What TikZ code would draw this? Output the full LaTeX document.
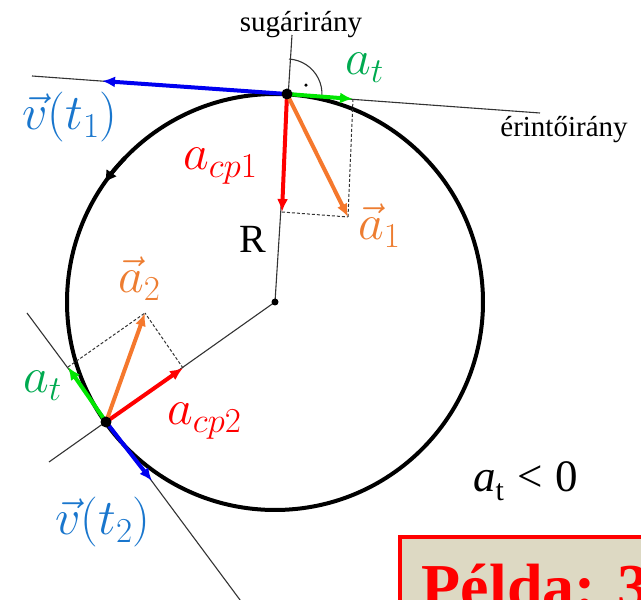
\RequirePackage{fix-cm}
\documentclass[tikz,border=0pt]{standalone}
\usepackage{fontspec}
\setmainfont{Liberation Serif}
\usetikzlibrary{arrows.meta,calc}
\definecolor{vecgreen}{RGB}{0,230,0}
\definecolor{vecblue}{RGB}{0,0,240}
\definecolor{vecred}{RGB}{255,0,0}
\definecolor{vecorange}{RGB}{245,120,45}
\definecolor{labgreen}{RGB}{0,170,80}
\definecolor{labblue}{RGB}{25,118,205}
\definecolor{laborange}{RGB}{237,125,49}
\definecolor{boxbg}{RGB}{221,217,195}

\begin{document}
\begin{tikzpicture}[x=1pt,y=1pt,
  vecarrow/.style={line width=4pt,-{Latex[length=13pt,width=11pt]}},
  thinline/.style={line width=1.1pt,black!80},
  helpline/.style={line width=1pt,densely dashed,black!80},
  mathlabel/.style={inner sep=0pt,anchor=base west,font=\fontsize{50}{54}\selectfont},
  textlabel/.style={inner sep=0pt,anchor=base,font=\fontsize{29}{32}\selectfont}]
\useasboundingbox (0,0) rectangle (641,600);
\clip (0,0) rectangle (641,600);

\coordinate (C) at (275,298);
\coordinate (P1) at (287,506);
\coordinate (P2) at (106,178);
\coordinate (S1) at (292,565);
\coordinate (S2) at (49,138);
\coordinate (T1a) at (32,524);
\coordinate (T1b) at (540,487);
\coordinate (T2a) at (27,287);
\coordinate (T2b) at (246,-8);
\coordinate (v1) at (102,519);
\coordinate (at1) at (353,501);
\coordinate (acp1) at (282,388);
\coordinate (a1) at ($(at1)+(acp1)-(P1)$);
\coordinate (v2) at (152,119);
\coordinate (at2) at (68,233);
\coordinate (acp2) at (183,232);
\coordinate (a2) at ($(at2)+(acp2)-(P2)$);

\draw[thinline] (C) -- (S1);
\draw[thinline] (C) -- (S2);
\draw[thinline] (T1a) -- (T1b);
\draw[thinline] (T2a) -- (T2b);
\draw[thinline] ($(P1)+(86.7:35)$) arc[start angle=86.7,end angle=-4.2,radius=35];
\fill ($(P1)+(25:21)$) circle[radius=1.8];

\draw[line width=4pt] (C) circle[radius=208];
\draw[line width=4pt,-{Latex[length=12pt,width=13pt]}] ($(C)+(136:208)$) arc[start angle=136,end angle=145,radius=208];

\draw[helpline] (at1) -- (a1);
\draw[helpline] (acp1) -- (a1);
\draw[helpline] (at2) -- (a2);
\draw[helpline] (acp2) -- (a2);

\draw[vecarrow,vecblue] (P1) -- (v1);
\draw[vecarrow,vecgreen] (P1) -- (at1);
\draw[vecarrow,vecred] (P1) -- (acp1);
\draw[vecarrow,vecorange] (P1) -- (a1);
\draw[vecarrow,vecblue] (P2) -- (v2);
\draw[vecarrow,vecgreen] (P2) -- (at2);
\draw[vecarrow,vecred] (P2) -- (acp2);
\draw[vecarrow,vecorange] (P2) -- (a2);

\fill (P1) circle[radius=5.5];
\fill (P2) circle[radius=5.5];
\fill (C) circle[radius=3.5];

\node[textlabel] (radial) at (301,568) {sugárirány};
\node[textlabel] (tangent) at (564,463) {érintőirány};
\node[textlabel,font=\fontsize{40}{42}\selectfont] (rlabel) at (253,347) {R};

\node[mathlabel,labgreen] (at1lab) at (345,525) {$a_t$};
\node[mathlabel,vecred] (acp1lab) at (183,430) {$a_{cp1}$};
\node[mathlabel,laborange] (a1lab) at (358,360) {$\vec{a}_1$};
\node[mathlabel,labblue] (v1lab) at (22,470) {$\vec{v}(t_1)$};
\node[mathlabel,laborange] (a2lab) at (118,307) {$\vec{a}_2$};
\node[mathlabel,labgreen] (at2lab) at (23,207) {$a_t$};
\node[mathlabel,vecred] (acp2lab) at (167,175) {$a_{cp2}$};
\node[mathlabel,labblue] (v2lab) at (55,65) {$\vec{v}(t_2)$};

\node[inner sep=0pt,anchor=base west,font=\fontsize{45}{48}\selectfont] (atneg) at (473,108)
  {\textit{a}\raisebox{-0.2em}{\fontsize{30}{30}\selectfont t}\hspace{13pt}<\hspace{13pt}0};

\node[draw=red,line width=3.5pt,fill=boxbg,anchor=base west,inner xsep=22pt,inner ysep=0pt,
  text height=72pt,text depth=40pt,text=red,
  font=\fontsize{64}{66}\selectfont\bfseries] (example) at (398,-9) {Példa: 3};
\end{tikzpicture}
\end{document}
